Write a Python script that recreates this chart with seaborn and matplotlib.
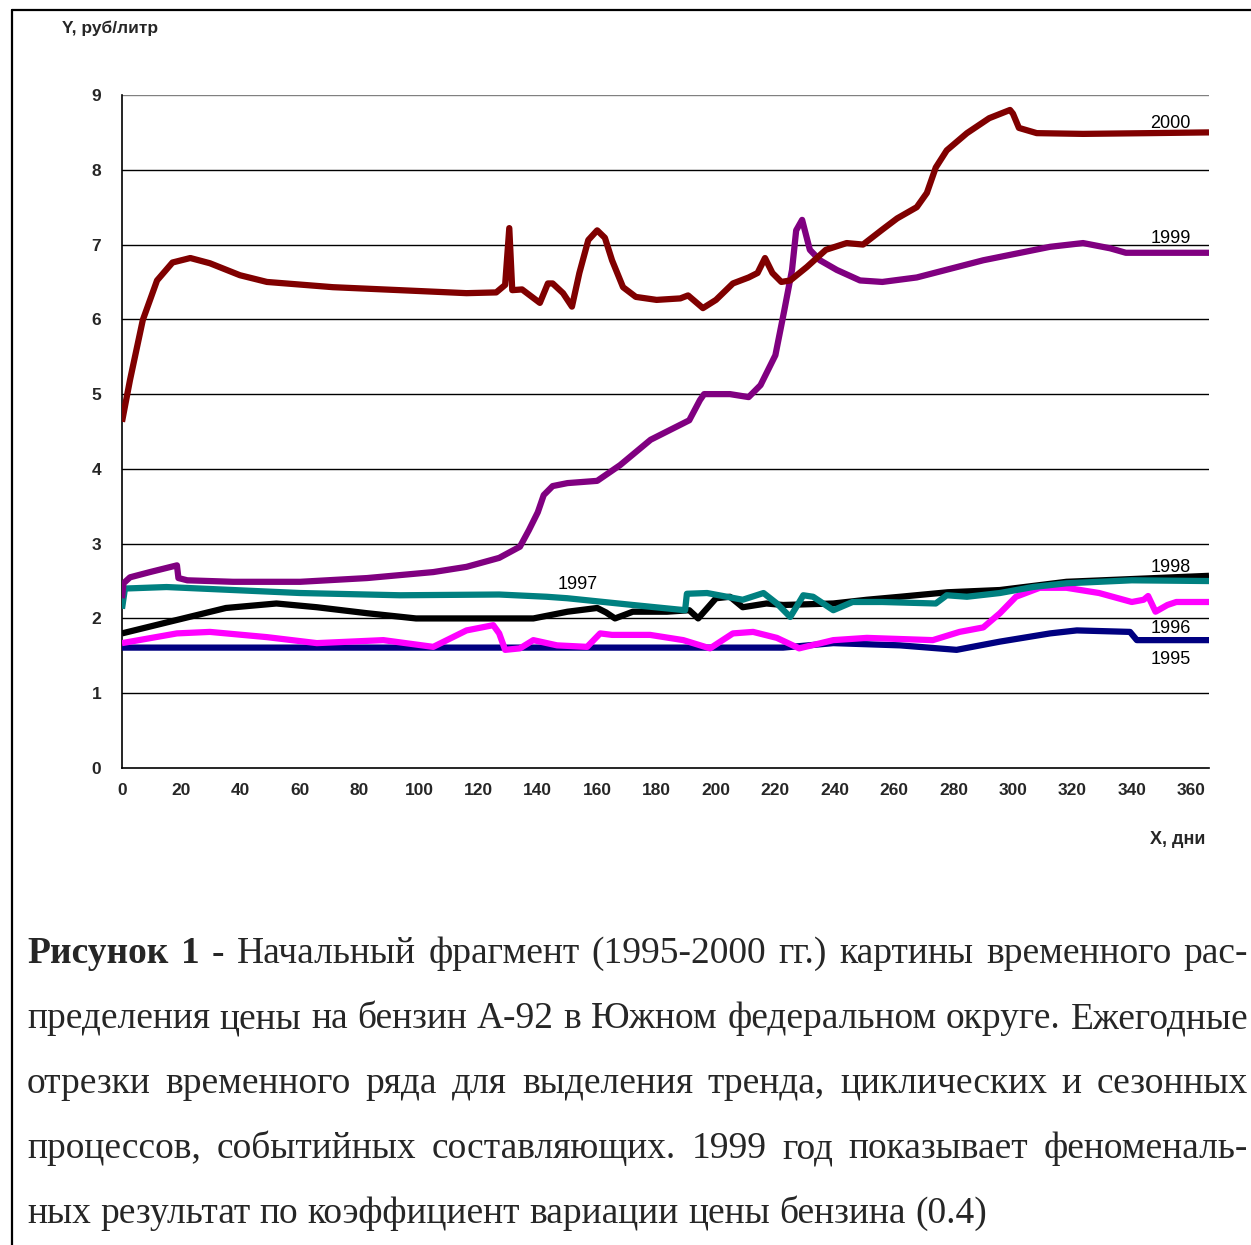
import numpy as np
import pandas as pd
import seaborn as sns
import matplotlib.pyplot as plt
from matplotlib.lines import Line2D

# data: day of year -> price, rub/litre
days_1995 = [0, 222.6, 239.5, 262, 281, 295.6, 312.5, 321.5, 339.4, 341.7, 366]
price_1995 = [1.61, 1.61, 1.67, 1.64, 1.58, 1.69, 1.80, 1.84, 1.82, 1.71, 1.71]

days_1996 = [0, 18.5, 29.6, 48.8, 65.6, 88, 104.8, 116, 125, 127, 129, 134, 138.5, 146.5,
             156.6, 161, 165, 177.8, 189, 198, 205.7, 212.5, 220.5, 228, 239.5, 250.8, 273,
             282, 290, 295.6, 301, 309, 318, 329, 340, 344, 345.5, 348, 352, 355, 366]
price_1996 = [1.67, 1.80, 1.82, 1.75, 1.67, 1.71, 1.62, 1.84, 1.91, 1.80, 1.58, 1.60, 1.71, 1.64,
              1.62, 1.80, 1.78, 1.78, 1.71, 1.60, 1.80, 1.82, 1.74, 1.60, 1.71, 1.74, 1.71,
              1.82, 1.88, 2.07, 2.29, 2.41, 2.41, 2.34, 2.22, 2.25, 2.30, 2.09, 2.18, 2.22, 2.22]

days_1997 = [0, 1, 15, 37.4, 60, 93.6, 127, 143, 150, 172, 189.6, 190.2, 197, 203.7, 209, 216,
             220.5, 225, 227, 229.4, 232.7, 239.5, 246, 256, 274, 277.7, 284.5, 295.6, 306.7,
             318, 340, 366]
price_1997 = [2.13, 2.40, 2.42, 2.38, 2.34, 2.31, 2.32, 2.29, 2.27, 2.18, 2.11, 2.33, 2.34, 2.29,
              2.25, 2.34, 2.20, 2.02, 2.15, 2.31, 2.29, 2.11, 2.22, 2.22, 2.20, 2.31, 2.29, 2.34,
              2.42, 2.47, 2.51, 2.50]

days_1998 = [0, 18.5, 35, 52, 65.6, 82.5, 99, 121.5, 138.5, 150, 160, 163, 166, 172, 183.5, 191,
             194, 200, 204.7, 209, 217, 222.6, 239.5, 250.8, 262, 278, 295.6, 318, 366]
price_1998 = [1.80, 1.98, 2.14, 2.20, 2.15, 2.07, 2.00, 2.00, 2.00, 2.09, 2.14, 2.08, 2.00, 2.09,
              2.09, 2.11, 2.00, 2.27, 2.29, 2.15, 2.20, 2.18, 2.20, 2.25, 2.29, 2.35, 2.38, 2.49, 2.57]

days_1999 = [0, 0.5, 2.7, 9.4, 18.5, 19, 22, 37.4, 60, 82.5, 104.8, 116, 127, 134, 137, 140,
             142, 145, 150, 160, 167.7, 178, 191, 194.6, 196, 204.7, 211, 215, 220, 223, 225.6,
             227, 229, 231.6, 235, 240.7, 248.5, 256, 267.6, 290, 312.5, 323.6, 332.7, 338, 366]
price_1999 = [2.27, 2.47, 2.55, 2.62, 2.71, 2.54, 2.51, 2.49, 2.49, 2.54, 2.62, 2.69, 2.81, 2.96,
              3.18, 3.42, 3.65, 3.77, 3.81, 3.84, 4.05, 4.39, 4.65, 4.92, 5.00, 5.00, 4.96, 5.12,
              5.52, 6.12, 6.66, 7.19, 7.33, 6.93, 6.79, 6.66, 6.52, 6.50, 6.56, 6.79, 6.97, 7.02,
              6.95, 6.89, 6.89]

days_2000 = [0, 2.7, 7, 11.8, 17, 23, 29.6, 39.7, 48.8, 71, 93.6, 116, 126, 129, 130.4, 131.4,
             134.7, 140.7, 143.4, 145, 148.5, 151.5, 154, 157, 160, 162.6, 165, 168.7, 173, 180,
             188, 190.6, 195.6, 200, 205.7, 211, 214, 216.5, 219, 222, 225, 230.6, 237, 244,
             249.5, 256, 261, 267.6, 271, 274, 277.7, 284.5, 292, 299, 300, 302, 308, 323.6, 346, 366]
price_2000 = [4.63, 5.19, 5.99, 6.52, 6.76, 6.82, 6.75, 6.59, 6.50, 6.43, 6.39, 6.35, 6.36, 6.46,
              7.22, 6.39, 6.40, 6.22, 6.48, 6.48, 6.35, 6.17, 6.62, 7.06, 7.19, 7.09, 6.79, 6.43,
              6.30, 6.26, 6.28, 6.32, 6.15, 6.26, 6.48, 6.56, 6.62, 6.82, 6.62, 6.50, 6.52, 6.70,
              6.93, 7.02, 7.00, 7.20, 7.35, 7.50, 7.69, 8.03, 8.26, 8.49, 8.69, 8.80, 8.75, 8.56,
              8.49, 8.48, 8.49, 8.50]

years = ["1995", "1996", "1998", "1997", "1999", "2000"]
series = {"1995": (days_1995, price_1995), "1996": (days_1996, price_1996),
          "1997": (days_1997, price_1997), "1998": (days_1998, price_1998),
          "1999": (days_1999, price_1999), "2000": (days_2000, price_2000)}
colors = {"1995": "#000080", "1996": "#FF00FF", "1997": "#008080",
          "1998": "#000000", "1999": "#800080", "2000": "#800000"}
# label positions (day, price)
label_pos = {"2000": (353, 8.62), "1999": (353, 7.08), "1998": (353, 2.68),
             "1997": (153.5, 2.45), "1996": (353, 1.87), "1995": (353, 1.45)}

x_ticks = list(range(0, 361, 20))
y_ticks = list(range(0, 10))

caption = [
    [("Рисунок", True), ("1", True), ("-", True), ("Начальный", False), ("фрагмент", False),
     ("(1995-2000", False), ("гг.)", False), ("картины", False), ("временного", False), ("рас-", False)],
    "пределения цены на бензин А-92 в Южном федеральном округе. Ежегодные",
    "отрезки временного ряда для выделения тренда, циклических и сезонных",
    "процессов, событийных составляющих. 1999 год показывает феноменаль-",
    "ных результат по коэффициент вариации цены бензина (0.4)",
]

sns.set_style("white")
plt.rcParams['font.family'] = ['Liberation Sans', 'DejaVu Sans']

W, H = 1251, 1245
fig = plt.figure(figsize=(W / 100, H / 100), dpi=100)
ax = fig.add_axes([122 / W, 1 - 768 / H, 1087 / W, 673 / H])

for yv in y_ticks[1:]:
    ax.axhline(yv, color="#808080" if yv == 9 else "black", lw=1.0, zorder=1)

for yr in years:
    d, p = series[yr]
    df = pd.DataFrame({"day": d, "price": p})
    sns.lineplot(data=df, x="day", y="price", color=colors[yr], lw=4.5, ax=ax,
                 estimator=None, sort=False, zorder=3)
    ax.lines[-1].set_solid_capstyle("butt")
    ax.lines[-1].set_solid_joinstyle("round")
    lx, ly = label_pos[yr]
    ax.text(lx, ly, yr, ha="center", va="center", fontsize=13, color="black", zorder=4)

ax.set_xlim(0, 366)
ax.set_ylim(0, 9)
ax.set_xticks(x_ticks)
ax.set_yticks(y_ticks)
ax.set_xlabel("")
ax.set_ylabel("")
for s in ["top", "right"]:
    ax.spines[s].set_visible(False)
for s in ["left", "bottom"]:
    ax.spines[s].set_color("black")
    ax.spines[s].set_linewidth(1.2)
ax.tick_params(direction="out", length=5, width=1, color="black", labelsize=12.5, pad=6)
for lab in ax.get_xticklabels() + ax.get_yticklabels():
    lab.set_fontweight("bold")
ax.tick_params(axis="y", pad=10)

fig.text(62 / W, 1 - 28 / H, "Y, руб/литр", fontsize=12.5, fontweight="bold", ha="left", va="center")
fig.text(1205 / W, 1 - 840 / H, "X, дни", fontsize=13, fontweight="bold", ha="right", va="center")

# frame around the figure (top and left edges)
fig.add_artist(Line2D([12 / W, 1], [1 - 10 / H, 1 - 10 / H], color="black", lw=1.6))
fig.add_artist(Line2D([12 / W, 12 / W], [1 - 10 / H, 0], color="black", lw=1.6))

# justified caption
renderer = fig.canvas.get_renderer()
cap_size = 27
serif = ["Liberation Serif", "DejaVu Serif"]
x0, x1 = 27, 1248
baselines = [963, 1028, 1093, 1158, 1223]
for i, line in enumerate(caption):
    if isinstance(line, str):
        words = [(w, False) for w in line.split()]
    else:
        words = line
    objs = []
    for w, b in words:
        t = fig.text(0, 1 - baselines[i] / H, w, fontsize=cap_size, family=serif,
                     fontweight="bold" if b else "normal", ha="left", va="baseline")
        objs.append(t)
    widths = [t.get_window_extent(renderer).width for t in objs]
    if i < len(caption) - 1:
        gap = (x1 - x0 - sum(widths)) / (len(objs) - 1)
    else:
        gap = 0.25 * cap_size * 100 / 72
    xp = x0
    for t, w in zip(objs, widths):
        t.set_x(xp / W)
        xp += w + gap

fig.savefig("out.png", dpi=100, facecolor="white")
